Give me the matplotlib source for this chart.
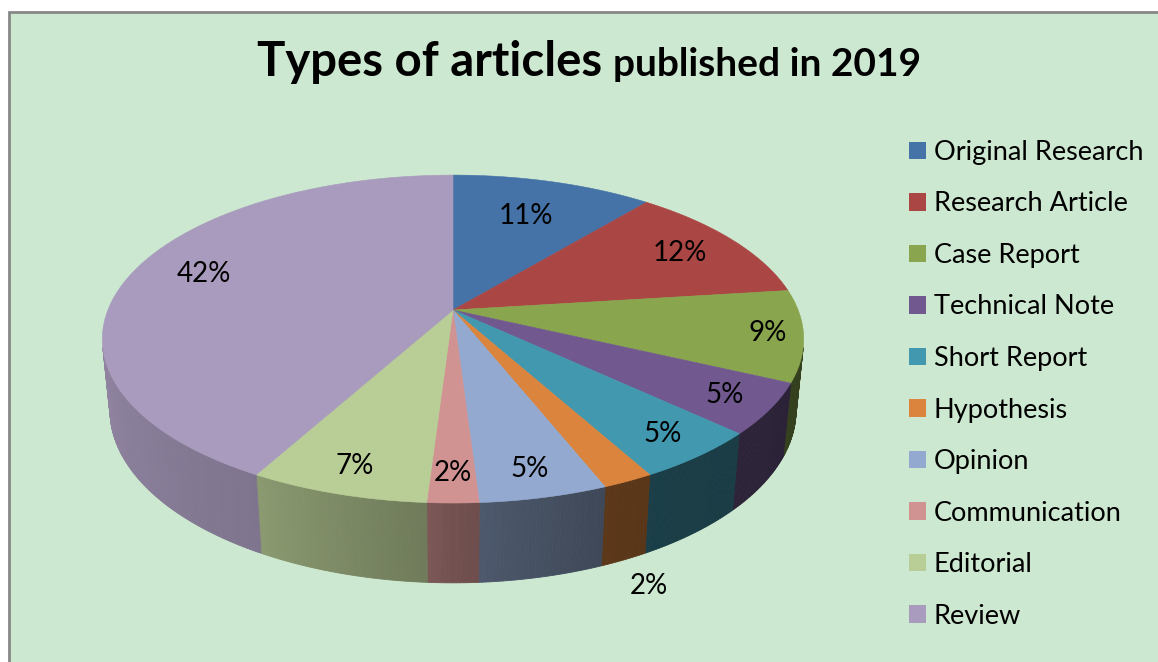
import numpy as np
import matplotlib
matplotlib.use("Agg")
import matplotlib.pyplot as plt
from matplotlib.patches import Polygon, Rectangle, Patch
from matplotlib.offsetbox import TextArea, HPacker, AnnotationBbox
from matplotlib.colors import to_rgb

plt.rcParams['font.family'] = ['Lato', 'DejaVu Sans']

# data
categories = ["Original Research", "Research Article", "Case Report", "Technical Note",
              "Short Report", "Hypothesis", "Opinion", "Communication", "Editorial", "Review"]
shares = [11, 12, 9, 5, 5, 2, 5, 2, 7, 42]
colors = ["#4572A7", "#AA4643", "#89A54E", "#71588F", "#4198AF",
          "#DB843D", "#93A9CF", "#D19392", "#B9CD96", "#A99BBD"]

# where each percentage label sits (fraction of radius, >1 means outside below the pie)
label_r = [0.70, 0.80, 0.90, 0.87, 0.87, 1.12, 0.87, 0.87, 0.87, 0.77]

# perspective view of the pie (pixel space)
CX, CY = 453, 310
F, L, H = 1729.0, 5.01, 0.2334
th = np.radians(27.4)


def project(r, t, z=0.0):
    x = r * np.cos(t)
    y = r * np.sin(t)
    depth = L + y * np.cos(th) - z * np.sin(th)
    Y = y * np.sin(th) + z * np.cos(th)
    return CX + F * x / depth, CY - F * Y / depth


# side shading vs angle measured from the left edge of the pie
shade_phi = [-30, 0, 61, 86, 90, 94, 112, 125, 180, 210]
shade_val = [0.88, 0.88, 0.75, 0.60, 0.55, 0.52, 0.42, 0.40, 0.38, 0.38]

fig = plt.figure(figsize=(11.58, 6.62), dpi=100)
fig.patch.set_facecolor("white")
ax = fig.add_axes([0, 0, 1, 1])
ax.set_xlim(0, 1158)
ax.set_ylim(662, 0)
ax.axis("off")

ax.add_patch(Rectangle((9, 12), 1160, 660, facecolor="#CDE8D0",
                       edgecolor="#878787", lw=2.0, zorder=0))

fr = np.array(shares) / np.sum(shares)
bounds = np.pi / 2 - 2 * np.pi * np.concatenate([[0], np.cumsum(fr)])
vis_lim = -1.0 / (L * np.cos(th))

# sides first
for i, c in enumerate(colors):
    t0, t1 = bounds[i], bounds[i + 1]
    n = max(2, int(np.degrees(t0 - t1) * 2))
    ts = np.linspace(t0, t1, n + 1)
    base = np.array(to_rgb(c))
    for a, b in zip(ts[:-1], ts[1:]):
        m = 0.5 * (a + b)
        if np.sin(m) > vis_lim:
            continue
        phi = (np.degrees(m) % 360) - 180
        k = np.interp(phi, shade_phi, shade_val)
        col = np.clip(base * k, 0, 1)
        pts = [project(1, a), project(1, b), project(1, b, -H), project(1, a, -H)]
        ax.add_patch(Polygon(pts, closed=True, facecolor=col, edgecolor=col,
                             lw=0.6, zorder=1))

# top faces
for i, c in enumerate(colors):
    t0, t1 = bounds[i], bounds[i + 1]
    ts = np.linspace(t0, t1, 200)
    xs, ys = project(1, ts)
    pts = np.column_stack([np.r_[CX, xs], np.r_[CY, ys]])
    ax.add_patch(Polygon(pts, closed=True, facecolor=c, edgecolor=c, lw=0.4, zorder=2))

# percentage labels
for i, v in enumerate(shares):
    m = 0.5 * (bounds[i] + bounds[i + 1])
    r = label_r[i]
    z = -H if r > 1 else 0.0
    lx, ly = project(r, m, z)
    if i == len(shares) - 1:
        ly -= 7
    ax.text(lx, ly, f"{v}%", ha="center", va="center", fontsize=20, color="black", zorder=5)

# title
t1 = TextArea("Types of articles ", textprops=dict(fontsize=34, fontweight="bold"))
t2 = TextArea("published in 2019", textprops=dict(fontsize=28, fontweight="bold"))
box = HPacker(children=[t1, t2], align="baseline", pad=0, sep=0)
ax.add_artist(AnnotationBbox(box, (589, 62), xycoords="data", frameon=False,
                             box_alignment=(0.5, 0.5)))

# legend
handles = [Patch(facecolor=c, edgecolor="none") for c in colors]
ax.legend(handles, categories, loc="upper left", bbox_to_anchor=(898 / 1158, 1 - 129 / 662),
          frameon=False, fontsize=19.5, labelspacing=0.98, handlelength=0.62,
          handleheight=0.62, handletextpad=0.3, borderaxespad=0)

fig.savefig("out.png", dpi=100, facecolor=fig.get_facecolor())
